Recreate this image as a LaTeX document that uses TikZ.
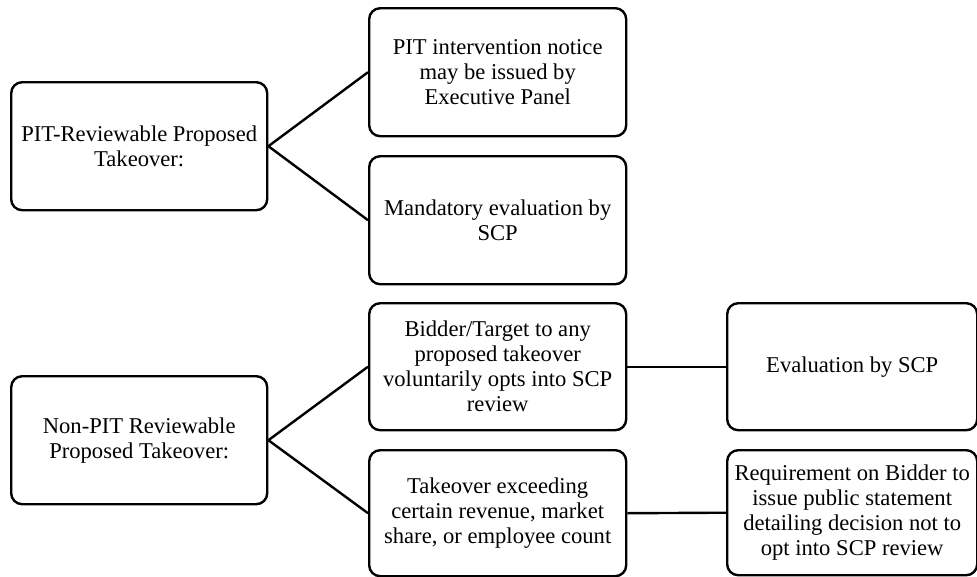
\documentclass[tikz,border=0pt]{standalone}
\usepackage{fontspec}
\setmainfont{Liberation Serif}
\begin{document}
\begin{tikzpicture}[x=1pt,y=-1pt,
  box/.style={draw=black,line width=2.4pt,rounded corners=11pt,align=center,
    inner sep=0pt,font=\fontsize{22.6}{25}\selectfont,anchor=north west},
  link/.style={draw=black,line width=2.4pt}]
\useasboundingbox (0,0) rectangle (977,576);
\node[box,minimum width=256pt,minimum height=128pt] (a) at (10,81) {PIT-Reviewable Proposed\\Takeover:};
\node[box,minimum width=257pt,minimum height=128pt] (b) at (368,7) {PIT intervention notice\\may be issued by\\Executive Panel};
\node[box,minimum width=257pt,minimum height=128pt] (c) at (368,155) {Mandatory evaluation by\\SCP};
\node[box,minimum width=256pt,minimum height=128pt] (d) at (10,375) {Non-PIT Reviewable\\Proposed Takeover:};
\node[box,minimum width=257pt,minimum height=127pt] (e) at (368,302) {Bidder/Target to any\\proposed takeover\\voluntarily opts into SCP\\review};
\node[box,minimum width=257pt,minimum height=126pt] (f) at (368,449) {Takeover exceeding\\certain revenue, market\\share, or employee count};
\node[box,minimum width=250pt,minimum height=127pt] (g) at (726,302) {Evaluation by SCP};
\node[box,minimum width=250pt,minimum height=125pt] (h) at (726,449) {Requirement on Bidder to\\issue public statement\\detailing decision not to\\opt into SCP review};
\draw[link] (b.west) -- (a.east) -- (c.west);
\draw[link] (e.west) -- (d.east) -- (f.west);
\draw[link] (e.east) -- (g.west);
\draw[link] (f.east) -- (h.west);
\end{tikzpicture}
\end{document}
